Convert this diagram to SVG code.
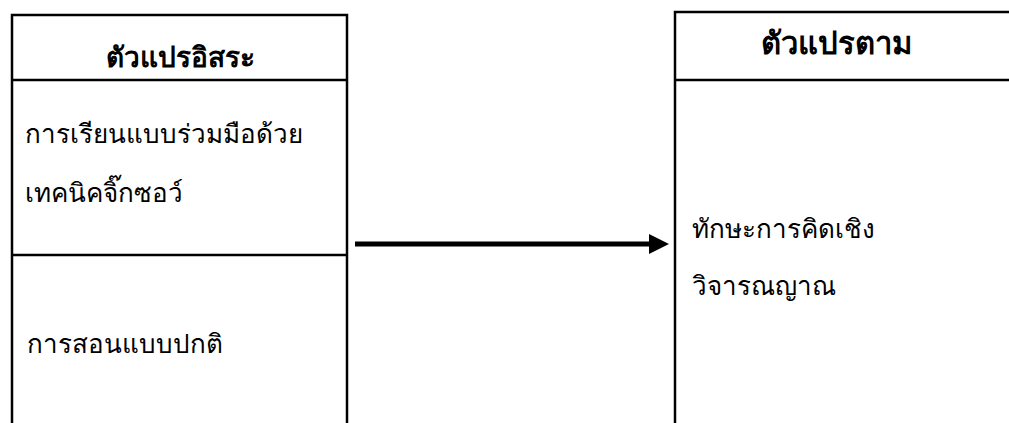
<svg xmlns="http://www.w3.org/2000/svg" width="1009" height="423" viewBox="0 0 1009 423">
<style>
.box{fill:none;stroke:#000;stroke-width:2.5}
.t{font-family:"Liberation Serif","Noto Sans",serif;font-size:26px;fill:#000}
.h{font-family:"Liberation Serif","Noto Sans",serif;font-size:28px;font-weight:bold;fill:#000}
</style>
<defs>
<marker id="ah" markerWidth="4" markerHeight="4" refX="0" refY="2" orient="auto" markerUnits="strokeWidth"><path d="M0,0 L4,2 L0,4 Z" fill="#000"/></marker>
</defs>
<g id="independent">
<rect class="box" x="12" y="15" width="335" height="420"/>
<line class="box" x1="12" y1="80" x2="347" y2="80"/>
<line class="box" x1="12" y1="255" x2="347" y2="255"/>
<text class="h" x="180" y="67" text-anchor="middle">ตัวแปรอิสระ</text>
<text class="t" x="25" y="143">การเรียนแบบร่วมมือด้วย</text>
<text class="t" x="25" y="202">เทคนิคจิ๊กซอว์</text>
<text class="t" x="27" y="353">การสอนแบบปกติ</text>
</g>
<g id="dependent">
<rect class="box" x="675" y="12" width="345" height="420"/>
<line class="box" x1="675" y1="80" x2="1020" y2="80"/>
<text class="h" x="836" y="54" text-anchor="middle" style="font-size:31px">ตัวแปรตาม</text>
<text class="t" x="692" y="238">ทักษะการคิดเชิง</text>
<text class="t" x="692" y="295">วิจารณญาณ</text>
</g>
<g id="connectors">
<line x1="355" y1="244" x2="649" y2="244" stroke="#000" stroke-width="5" marker-end="url(#ah)"/>
</g>
</svg>
